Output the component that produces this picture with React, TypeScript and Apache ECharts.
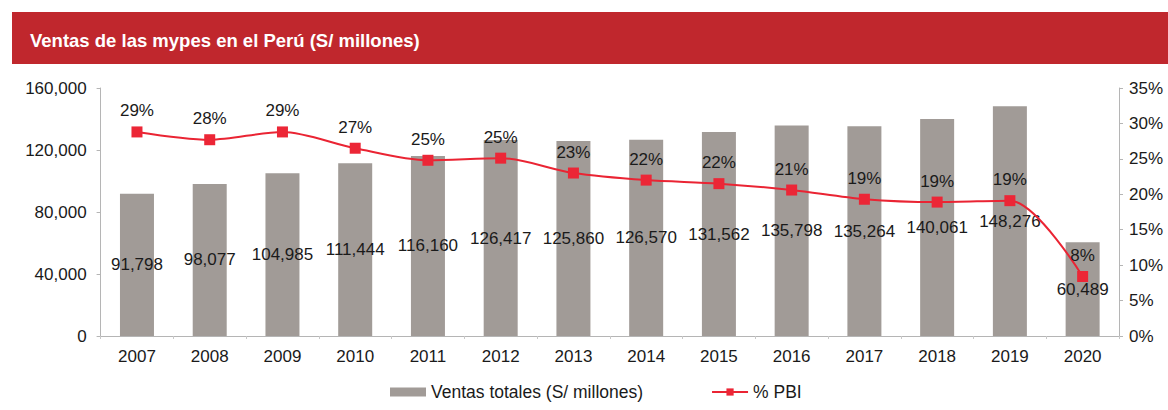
import React, { useEffect, useRef } from "react";
import * as echarts from "echarts";

const years = ["2007", "2008", "2009", "2010", "2011", "2012", "2013", "2014", "2015", "2016", "2017", "2018", "2019", "2020"];
const ventas = [91798, 98077, 104985, 111444, 116160, 126417, 125860, 126570, 131562, 135798, 135264, 140061, 148276, 60489];
const pbi = [28.8, 27.7, 28.8, 26.5, 24.8, 25.1, 23.0, 22.0, 21.5, 20.6, 19.3, 18.9, 19.1, 8.4];
const titleText = "Ventas de las mypes en el Perú (S/ millones)";
const barName = "Ventas totales (S/ millones)";
const lineName = "% PBI";

const FONT = "Arial, 'Liberation Sans', sans-serif";
const TXT = "#1a1a1a";

export default function App() {
  const ref = useRef<HTMLDivElement>(null);
  useEffect(() => {
    const chart = echarts.init(ref.current!, null, { renderer: "svg" });
    chart.setOption({
      animation: false,
      backgroundColor: "#ffffff",
      textStyle: { fontFamily: FONT },
      graphic: [
        { type: "rect", shape: { x: 12, y: 12, width: 1156, height: 52 }, style: { fill: "#c0272d" } },
        {
          type: "text",
          x: 30,
          y: 40,
          style: { text: titleText, fill: "#ffffff", font: "bold 18.5px " + FONT, textVerticalAlign: "middle" },
        },
      ],
      legend: {
        left: 385,
        top: 378,
        itemGap: 68,
        itemWidth: 36,
        itemHeight: 9,
        textStyle: { fontSize: 17.5, color: TXT, fontFamily: FONT },
        data: [{ name: barName, icon: "rect" }, { name: lineName }],
      },
      grid: { left: 100.6, right: 49, top: 88, bottom: 74 },
      xAxis: {
        type: "category",
        data: years,
        axisLine: { lineStyle: { color: "#b5b5b5" } },
        axisTick: { show: true, length: 3, lineStyle: { color: "#c8c8c8" } },
        axisLabel: { fontSize: 17, color: TXT, margin: 12, fontFamily: FONT },
      },
      yAxis: [
        {
          type: "value",
          min: 0,
          max: 160000,
          interval: 40000,
          splitLine: { show: false },
          axisLine: { show: true, lineStyle: { color: "#b5b5b5" } },
          axisTick: { show: true, length: 4, lineStyle: { color: "#b5b5b5" } },
          axisLabel: {
            fontSize: 17,
            color: TXT,
            margin: 14,
            fontFamily: FONT,
            formatter: (v: number) => v.toLocaleString("en-US"),
          },
        },
        {
          type: "value",
          min: 0,
          max: 35,
          interval: 5,
          splitLine: { show: false },
          axisLine: { show: true, lineStyle: { color: "#b5b5b5" } },
          axisTick: { show: true, length: 4, lineStyle: { color: "#b5b5b5" } },
          axisLabel: { fontSize: 17, color: TXT, margin: 10, fontFamily: FONT, formatter: "{value}%" },
        },
      ],
      series: [
        {
          name: barName,
          type: "bar",
          data: ventas,
          barWidth: 34,
          itemStyle: { color: "#a19b97" },
          label: {
            show: true,
            position: "inside",
            fontSize: 17,
            color: TXT,
            fontFamily: FONT,
            formatter: (p: any) => Number(p.value).toLocaleString("en-US"),
          },
        },
        {
          name: lineName,
          type: "line",
          yAxisIndex: 1,
          data: pbi,
          smooth: 0.3,
          symbol: "rect",
          symbolSize: 11,
          lineStyle: { color: "#ea2433", width: 2 },
          itemStyle: { color: "#ec2636" },
          label: {
            show: true,
            position: "top",
            distance: 7,
            fontSize: 17,
            color: TXT,
            fontFamily: FONT,
            formatter: (p: any) => Math.round(p.value) + "%",
          },
        },
      ],
    });
    return () => chart.dispose();
  }, []);
  return <div ref={ref} style={{ position: "absolute", left: 0, top: 0, width: 1168, height: 410 }} />;
}
